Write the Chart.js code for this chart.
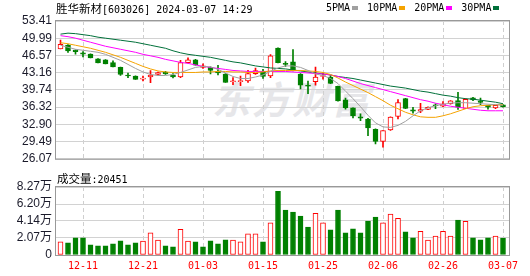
<!DOCTYPE html>
<html>
<head>
<meta charset="utf-8">
<script src="https://cdn.jsdelivr.net/npm/chart.js@4"></script>
<style>
  body { margin: 0; width: 530px; height: 276px; overflow: hidden; position: relative; background: #fff; }
  canvas { position: absolute; left: 0; }
  #priceChart { top: 0; z-index: 2; }
  #volChart { top: 166px; z-index: 2; }
  .txt { position: absolute; font: 10px 'DejaVu Sans Mono', monospace; color: #000; line-height: 14px; white-space: nowrap; z-index: 3; }
  .cjk { font-family: 'Noto Sans CJK SC', sans-serif; font-size: 11.5px; }
  #title { left: 56px; top: 1px; }
  #legend { left: 326px; top: 1px; }
  #legend i { display: inline-block; width: 6px; height: 4px; margin: 0 9px 1px 2px; vertical-align: middle; }
  #volLabel { left: 57px; top: 171px; }
  #watermark { position: absolute; left: 212px; top: 70px; z-index: 1; font: italic bold 38px 'Noto Sans CJK SC', sans-serif; color: #e6e6e9; letter-spacing: 2px; }
</style>
</head>
<body>
<div id="watermark">东方财富</div>
<div id="title" class="txt"><span class="cjk">胜华新材</span>[603026] 2024-03-07 14:29</div>
<div id="legend" class="txt"></div>
<div id="volLabel" class="txt"><span class="cjk">成交量</span>:20451</div>
<canvas id="priceChart" width="530" height="170"></canvas>
<canvas id="volChart" width="530" height="110"></canvas>
<script>
// trading days shown
const dates = ['12-06','12-07','12-08','12-11','12-12','12-13','12-14','12-15','12-18','12-19',
  '12-20','12-21','12-22','12-25','12-26','12-27','12-28','12-29','01-02','01-03',
  '01-04','01-05','01-08','01-09','01-10','01-11','01-12','01-15','01-16','01-17',
  '01-18','01-19','01-22','01-23','01-24','01-25','01-26','01-29','01-30','01-31',
  '02-01','02-02','02-05','02-06','02-07','02-08','02-19','02-20','02-21','02-22',
  '02-23','02-26','02-27','02-28','02-29','03-01','03-04','03-05','03-06','03-07'];
const dateTicks = ['12-11','12-21','01-03','01-15','01-25','02-06','02-26','03-07'];
const priceTicks = [26.07, 29.49, 32.90, 36.32, 39.74, 43.16, 46.57, 49.99, 53.41];
const volTicks = [0, 2.07, 4.14, 6.20, 8.27];

const open = [47.85,48.61,47.66,47.10,46.84,45.90,45.71,45.15,44.20,42.70,
  42.50,41.85,42.30,42.80,43.30,42.70,42.30,45.14,45.70,44.20,
  44.20,43.40,42.90,41.35,41.35,41.54,42.98,43.40,42.50,48.04,
  45.00,45.30,42.90,40.70,41.35,42.40,42.30,40.46,37.76,36.17,
  34.40,33.97,31.94,29.54,31.81,34.46,38.00,35.80,35.54,35.86,
  36.70,36.50,37.00,37.60,36.05,38.19,37.57,36.67,36.16,36.80];
const high = [49.63,48.75,47.70,47.34,46.90,45.95,45.75,45.50,44.25,43.06,
  42.55,42.50,43.55,43.30,43.40,43.00,45.60,46.10,45.80,44.90,
  44.30,44.60,43.00,42.17,42.50,43.60,44.06,43.80,46.77,48.10,
  45.34,47.72,43.00,41.50,44.25,43.10,42.60,40.50,38.10,36.20,
  35.00,34.10,32.00,31.69,34.40,37.81,38.05,36.30,37.10,36.40,
  37.00,37.40,37.60,39.27,38.00,38.25,38.10,36.70,36.70,36.85];
const low = [47.85,47.16,46.84,46.30,46.10,45.10,44.88,44.31,42.60,42.17,
  41.80,41.50,41.16,42.70,42.80,42.10,42.17,45.10,44.63,44.00,
  42.90,42.70,41.20,40.80,40.60,41.20,42.80,42.00,42.17,45.10,
  44.40,43.50,39.95,39.00,40.70,41.85,41.00,37.50,35.90,34.20,
  33.65,30.67,29.04,28.40,31.69,33.97,36.00,35.10,35.20,35.80,
  36.00,36.40,36.90,35.86,36.00,37.60,36.80,35.90,36.00,36.30];
const close = [48.80,47.47,47.34,46.84,46.10,45.10,44.88,44.31,42.80,42.50,
  41.80,42.10,42.70,43.20,42.90,42.30,45.14,45.71,44.63,44.50,
  43.60,43.10,41.20,41.55,41.60,42.98,43.55,42.40,46.50,45.14,
  44.80,43.55,40.70,40.50,42.30,42.60,41.03,37.57,36.17,34.60,
  34.15,32.19,29.54,31.69,34.35,37.24,36.05,35.50,35.86,36.30,
  36.60,37.00,37.57,36.30,37.87,37.76,37.24,36.30,36.67,36.40];

const ma5 = [48.6,48.2,47.8,47.6,47.4,47.2,46.8,46.2,45.6,44.8,
  44.0,43.3,42.8,42.6,42.6,42.8,43.2,43.7,44.2,44.4,
  44.3,43.8,43.1,42.4,42.0,42.0,42.3,42.7,43.4,44.1,
  44.5,44.5,44.2,43.6,42.9,42.6,42.0,41.0,39.5,38.0,
  36.4,34.7,33.2,32.4,32.3,32.7,33.5,34.6,35.6,36.2,
  36.6,36.9,37.1,37.2,37.2,37.1,37.0,36.9,36.8,36.7];
const ma10 = [49.1,48.9,48.6,48.3,48.0,47.6,47.2,46.7,46.2,45.6,
  45.0,44.4,43.9,43.5,43.3,43.2,43.2,43.2,43.2,43.3,
  43.3,43.4,43.4,43.3,43.3,43.2,43.2,43.3,43.5,43.6,
  43.6,43.6,43.6,43.5,43.4,43.2,42.8,42.1,41.3,40.6,
  39.9,39.2,38.4,37.6,36.7,36.0,35.3,34.8,34.4,34.3,
  34.3,34.6,35.0,35.5,36.0,36.4,36.6,36.7,36.8,36.8];
const ma20 = [50.5,50.3,50.0,49.6,49.2,48.8,48.4,48.1,47.8,47.5,
  47.2,46.8,46.5,46.2,45.8,45.5,45.2,45.0,44.7,44.4,
  44.2,44.0,43.8,43.6,43.5,43.4,43.4,43.4,43.4,43.4,
  43.4,43.3,43.2,43.1,43.0,42.9,42.7,42.4,42.0,41.5,
  41.0,40.6,40.2,39.8,39.4,39.0,38.6,38.2,37.8,37.5,
  37.1,36.8,36.5,36.3,36.1,35.9,35.7,35.6,35.6,35.6];
const ma30 = [50.8,51.0,50.9,50.7,50.5,50.2,50.0,49.8,49.6,49.4,
  49.2,48.9,48.6,48.3,48.0,47.5,47.1,46.8,46.6,46.4,
  46.2,45.9,45.6,45.3,45.1,44.8,44.5,44.3,44.1,44.0,
  43.9,43.7,43.5,43.3,43.1,42.9,42.7,42.4,42.2,42.0,
  41.7,41.4,41.1,40.8,40.5,40.3,40.1,39.8,39.5,39.3,
  39.0,38.7,38.5,38.2,38.0,37.9,37.7,37.5,37.3,37.0];

// volume in 万 shares
const volume = [1.61,1.49,2.09,2.09,1.25,1.12,1.12,1.37,1.73,1.25,
  1.49,1.69,2.69,1.81,1.12,1.00,3.13,1.69,1.61,1.00,
  1.73,1.37,1.85,1.81,1.61,2.57,2.57,1.61,3.90,7.75,
  5.46,5.22,4.74,3.41,5.06,3.90,3.05,5.46,2.69,3.17,
  2.69,4.14,4.62,3.90,4.98,4.46,2.81,2.09,2.89,1.81,
  2.29,2.89,2.29,4.26,4.10,2.09,1.85,2.09,2.29,2.05];

const maNames = ['5PMA', '10PMA', '20PMA', '30PMA'];

const RED = '#ff0000';
const GREEN = '#008000';
const maColors = ['#a0a0a0', '#f5a300', '#ff00ff', '#00703a'];
const labelFont = "'Liberation Sans', Arial, 'Noto Sans CJK SC', sans-serif";

// legend text
document.getElementById('legend').innerHTML = maNames
  .map((name, i) => `${name}<i style="background:${maColors[i]}"></i>`).join('');

const xs = dates.map((d, i) => i + 1);
const candleUp = xs.map((x, i) => close[i] >= open[i]);
const volUp = xs.map((x, i) => (i === 0 ? close[i] >= open[i] : close[i] >= close[i - 1]));
const tickPos = dateTicks.map((d) => dates.indexOf(d) + 1);

// plot frame
const framePlugin = {
    id: 'frame',
    afterDatasetsDraw(chart) {
        const { ctx, chartArea: a } = chart;
        ctx.save();
        ctx.strokeStyle = '#999';
        ctx.lineWidth = 1;
        ctx.strokeRect(a.left - 0.5, a.top - 0.5, a.right - a.left + 1, a.bottom - a.top + 1);
        ctx.restore();
    },
};

function xScale(showLabels) {
    return {
        type: 'linear',
        min: 0.4,
        max: 60.8,
        offset: false,
        afterBuildTicks: (s) => { s.ticks = tickPos.map((v) => ({ value: v })); },
        afterFit: (s) => { s.height = showLabels ? 21 : 0; },
        grid: { color: '#cfcfcf', drawTicks: false, offset: false },
        border: { display: false, dash: [4, 3] },
        ticks: {
            display: showLabels,
            autoSkip: false,
            maxRotation: 0,
            padding: 5,
            color: RED,
            font: { family: "'DejaVu Sans Mono', monospace", size: 10 },
            callback: (v) => dates[v - 1],
        },
    };
}

function yScale(min, max, ticks, fmt) {
    return {
        type: 'linear',
        min: min,
        max: max,
        afterBuildTicks: (s) => { s.ticks = ticks.map((v) => ({ value: v })); },
        afterFit: (s) => { s.width = 56; },
        grid: { color: '#d2d2d2', drawTicks: false },
        border: { display: false },
        ticks: {
            autoSkip: false,
            padding: 4,
            color: '#1a1a2a',
            font: { family: labelFont, size: 12 },
            callback: fmt,
        },
    };
}

const common = {
    responsive: false,
    devicePixelRatio: 1,
    animation: false,
    events: [],
    plugins: { legend: { display: false }, tooltip: { enabled: false } },
};

// Price chart: wicks + bodies as floating bars, moving averages as lines
new Chart(document.getElementById('priceChart').getContext('2d'), {
    type: 'bar',
    data: {
        datasets: [
            {
                label: 'wick',
                data: xs.map((x, i) => ({ x: x, y: [low[i], high[i]] })),
                backgroundColor: candleUp.map((u) => (u ? RED : GREEN)),
                barThickness: 1,
                grouped: false,
                order: 3,
            },
            {
                label: 'body',
                data: xs.map((x, i) => ({ x: x, y: [open[i], close[i]] })),
                backgroundColor: candleUp.map((u) => (u ? '#ffffff' : GREEN)),
                borderColor: candleUp.map((u) => (u ? RED : GREEN)),
                borderWidth: 1,
                borderSkipped: false,
                minBarLength: 1,
                barThickness: 5,
                grouped: false,
                order: 2,
            },
            ...[ma5, ma10, ma20, ma30].map((ma, k) => ({
                type: 'line',
                label: maNames[k],
                data: xs.map((x, i) => ({ x: x, y: ma[i] })),
                borderColor: maColors[k],
                borderWidth: 1,
                pointRadius: 0,
                tension: 0,
                order: 1,
            })),
        ],
    },
    options: {
        ...common,
        layout: { padding: { top: 21, right: 21, bottom: 5, left: 0 } },
        scales: {
            x: xScale(false),
            y: yScale(26.07, 53.41, priceTicks, (v) => v.toFixed(2)),
        },
    },
    plugins: [framePlugin],
});

// Volume chart
new Chart(document.getElementById('volChart').getContext('2d'), {
    type: 'bar',
    data: {
        datasets: [
            {
                label: 'volume',
                data: xs.map((x, i) => ({ x: x, y: volume[i] })),
                backgroundColor: volUp.map((u) => (u ? '#ffffff' : GREEN)),
                borderColor: volUp.map((u) => (u ? RED : GREEN)),
                borderWidth: 1,
                borderSkipped: false,
                barThickness: 5,
            },
        ],
    },
    options: {
        ...common,
        layout: { padding: { top: 21, right: 21, bottom: 0, left: 0 } },
        scales: {
            x: xScale(true),
            y: yScale(0, 8.27, volTicks, (v) => (v === 0 ? '0' : v.toFixed(2) + '万')),
        },
    },
    plugins: [framePlugin],
});
</script>
</body>
</html>
